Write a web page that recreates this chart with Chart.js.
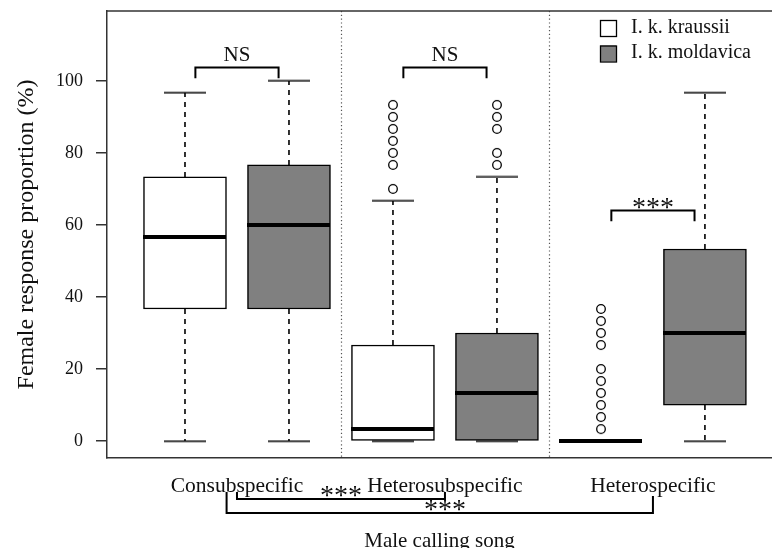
<!DOCTYPE html>
<html>
<head>
<meta charset="utf-8">
<script src="https://cdn.jsdelivr.net/npm/chart.js@4.4.1/dist/chart.umd.min.js"></script>
<style>
  html, body { margin: 0; padding: 0; background: #fff; }
</style>
</head>
<body>
<canvas id="myChart" width="772" height="548"></canvas>
<script>
// song types and the two subspecies
const groups = ['Consubspecific', 'Heterosubspecific', 'Heterospecific'];
const subspecies = ['I. k. kraussii', 'I. k. moldavica'];

// one entry per box, left to right
const boxPos = [1, 2, 3, 4, 5, 6];
const boxSub = [0, 1, 0, 1, 0, 1];
const lowWhisker = [0, 0, 0, 0, 0, 0];
const q1 = [36.67, 36.67, 0, 0, 0, 10];
const med = [56.67, 60, 3.33, 13.33, 0, 30];
const q3 = [73.33, 76.67, 26.67, 30, 0, 53.33];
const highWhisker = [96.67, 100, 66.67, 73.33, 0, 96.67];
const outliers = [
  [],
  [],
  [70, 76.67, 80, 83.33, 86.67, 90, 93.33],
  [76.67, 80, 86.67, 90, 93.33],
  [3.33, 6.67, 10, 13.33, 16.67, 20, 26.67, 30, 33.33, 36.67],
  []
];

const yTicks = [0, 20, 40, 60, 80, 100];
const groupCentres = [1.5, 3.5, 5.5];
const dividers = [2.5, 4.5];

// tests between subspecies inside a song type
const withinTests = [
  { from: 1.1, to: 1.9, y: 103.7, label: 'NS' },
  { from: 3.1, to: 3.9, y: 103.7, label: 'NS' },
  { from: 5.1, to: 5.9, y: 64, label: '***' }
];
// tests between song types (drawn under the axis)
const betweenTests = [
  { from: 1.5, to: 3.5, textAt: 2.5, label: '***' },
  { from: 1.4, to: 5.5, textAt: 3.5, label: '***' }
];

const serif = "'Liberation Serif', 'Times New Roman', serif";
const fills = ['#ffffff', '#808080'];

var ctx = document.getElementById('myChart').getContext('2d');

// boxes as floating bars
function boxes(s) {
  return boxPos.map((x, i) => ({ x: x, y: [q1[i], q3[i]] })).filter((d, i) => boxSub[i] === s);
}

var whiskerPts = [];
boxPos.forEach((x, i) => {
  whiskerPts.push({ x: x, y: q3[i] }, { x: x, y: highWhisker[i] }, { x: x, y: null });
  whiskerPts.push({ x: x, y: q1[i] }, { x: x, y: lowWhisker[i] }, { x: x, y: null });
});

var capPts = [];
boxPos.forEach((x, i) => {
  capPts.push({ x: x, y: lowWhisker[i] }, { x: x, y: highWhisker[i] });
});

var outlierPts = [];
boxPos.forEach((x, i) => {
  outliers[i].forEach(v => outlierPts.push({ x: x, y: v }));
});

// marks used as point styles (big radii would otherwise eat layout padding)
function hMark(w, h, lw) {
  const cv = document.createElement('canvas');
  cv.width = w;
  cv.height = h;
  const g = cv.getContext('2d');
  g.strokeStyle = '#000';
  g.lineWidth = lw;
  g.beginPath();
  g.moveTo(0, h / 2);
  g.lineTo(w, h / 2);
  g.stroke();
  return cv;
}
function ringMark(size, r, lw) {
  const cv = document.createElement('canvas');
  cv.width = size;
  cv.height = size;
  const g = cv.getContext('2d');
  g.fillStyle = '#fff';
  g.strokeStyle = '#000';
  g.lineWidth = lw;
  g.beginPath();
  g.arc(size / 2, size / 2, r, 0, Math.PI * 2);
  g.fill();
  g.stroke();
  return cv;
}
const medianMark = hMark(83, 4, 4);
const capMark = hMark(42, 3, 1.5);
const outlierMark = ringMark(12, 4.3, 1.3);
const markOpts = { radius: 0.1, hoverRadius: 0, borderWidth: 0, hoverBorderWidth: 0 };

function drawTestLabel(c, label, cx, lineY) {
  c.textAlign = 'center';
  c.textBaseline = 'alphabetic';
  if (label === 'NS') {
    c.font = '21px ' + serif;
    c.fillText(label, cx, lineY - 6.5);
  } else {
    c.font = '28px ' + serif;
    c.fillText(label, cx, lineY + 5);
  }
}

var annotate = {
  id: 'annotate',
  beforeDatasetsDraw(chart) {
    const c = chart.ctx, area = chart.chartArea, x = chart.scales.x;
    c.save();
    c.strokeStyle = '#555';
    c.lineWidth = 1.2;
    c.setLineDash([1.2, 2.6]);
    dividers.forEach(v => {
      const px = Math.round(x.getPixelForValue(v)) + 0.5;
      c.beginPath();
      c.moveTo(px, area.top);
      c.lineTo(px, area.bottom);
      c.stroke();
    });
    c.restore();
  },
  afterDraw(chart) {
    const c = chart.ctx, area = chart.chartArea;
    const x = chart.scales.x, y = chart.scales.y;
    c.save();
    // top of the frame
    c.strokeStyle = '#333';
    c.lineWidth = 1.5;
    c.beginPath();
    c.moveTo(area.left, area.top);
    c.lineTo(chart.width, area.top);
    c.stroke();

    c.strokeStyle = '#000';
    c.fillStyle = '#111';
    c.lineWidth = 2;
    withinTests.forEach(t => {
      const x1 = x.getPixelForValue(t.from), x2 = x.getPixelForValue(t.to);
      const yl = y.getPixelForValue(t.y), yt = y.getPixelForValue(t.y - 3);
      c.beginPath();
      c.moveTo(x1, yt); c.lineTo(x1, yl); c.lineTo(x2, yl); c.lineTo(x2, yt);
      c.stroke();
      drawTestLabel(c, t.label, (x1 + x2) / 2, yl);
    });

    // brackets under the category labels
    const rows = [{ line: 41, tipL: 34, tipR: 34 }, { line: 55, tipL: 34, tipR: 38 }];
    betweenTests.forEach((t, i) => {
      const r = rows[i];
      const x1 = x.getPixelForValue(t.from), x2 = x.getPixelForValue(t.to);
      const yl = area.bottom + r.line;
      c.beginPath();
      c.moveTo(x1, area.bottom + r.tipL); c.lineTo(x1, yl);
      c.lineTo(x2, yl); c.lineTo(x2, area.bottom + r.tipR);
      c.stroke();
      drawTestLabel(c, t.label, x.getPixelForValue(t.textAt), yl);
    });

    // legend
    const bars = chart.data.datasets.filter(d => d.type === 'bar');
    bars.forEach((d, i) => {
      const top = 20 + i * 25.5;
      c.fillStyle = d.backgroundColor;
      c.fillRect(600, top, 16, 16);
      c.strokeStyle = '#000';
      c.lineWidth = 1.3;
      c.strokeRect(600.5, top + 0.5, 16, 16);
      c.fillStyle = '#111';
      c.font = '20px ' + serif;
      c.textAlign = 'left';
      c.textBaseline = 'middle';
      c.fillText(d.label, 631, top + 7.5);
    });
    c.restore();
  }
};

var myChart = new Chart(ctx, {
  type: 'bar',
  data: {
    datasets: [
      Object.assign({
        type: 'scatter', label: 'median', order: 0,
        data: boxPos.map((x, i) => ({ x: x, y: med[i] })),
        pointStyle: medianMark
      }, markOpts),
      Object.assign({
        type: 'scatter', label: 'outliers', order: 1,
        data: outlierPts,
        pointStyle: outlierMark
      }, markOpts),
      Object.assign({
        type: 'scatter', label: 'caps', order: 2,
        data: capPts,
        pointStyle: capMark
      }, markOpts),
      {
        type: 'bar', label: subspecies[0], order: 3,
        data: boxes(0),
        backgroundColor: fills[0], borderColor: '#000', borderWidth: 1.5,
        borderSkipped: false, barThickness: 83, grouped: false
      },
      {
        type: 'bar', label: subspecies[1], order: 3,
        data: boxes(1),
        backgroundColor: fills[1], borderColor: '#000', borderWidth: 1.5,
        borderSkipped: false, barThickness: 83, grouped: false
      },
      {
        type: 'line', label: 'whiskers', order: 4,
        data: whiskerPts,
        borderColor: '#000', borderWidth: 1.6, borderDash: [5, 5],
        pointRadius: 0, pointHoverRadius: 0, pointBorderWidth: 0,
        spanGaps: false, fill: false
      }
    ]
  },
  options: {
    responsive: false,
    animation: false,
    events: [],
    layout: { padding: { top: 11, right: 0, bottom: 0, left: 0 } },
    plugins: {
      legend: { display: false },
      tooltip: { enabled: false }
    },
    scales: {
      x: {
        type: 'linear', min: 0.25, max: 6.644, offset: false,
        afterBuildTicks: (s) => { s.ticks = groupCentres.map(v => ({ value: v })); },
        afterFit: (s) => { s.height = 90; s.paddingLeft = 0; s.paddingRight = 0; },
        border: { color: '#333', width: 1.5 },
        grid: { display: false },
        ticks: {
          padding: 7, autoSkip: false, maxRotation: 0, color: '#111',
          font: { family: serif, size: 21.5 },
          callback: (v, i) => groups[i]
        },
        title: {
          display: true, text: 'Male calling song', color: '#111',
          font: { family: serif, size: 21, lineHeight: 0.58 }, padding: 0
        }
      },
      y: {
        type: 'linear', min: -4.7, max: 119.4,
        afterBuildTicks: (s) => { s.ticks = yTicks.map(v => ({ value: v })); },
        afterFit: (s) => { s.width = 107; s.paddingTop = 0; s.paddingBottom = 0; },
        border: { color: '#333', width: 1.5 },
        grid: { drawOnChartArea: false, drawTicks: true, tickLength: 11, color: '#333', lineWidth: 1.5 },
        ticks: { padding: 13, color: '#111', font: { family: serif, size: 18 } },
        title: {
          display: true, text: 'Female response proportion (%)', color: '#111',
          font: { family: serif, size: 24 }, padding: { top: 12.5 }
        }
      }
    }
  },
  plugins: [annotate]
});
</script>
</body>
</html>
